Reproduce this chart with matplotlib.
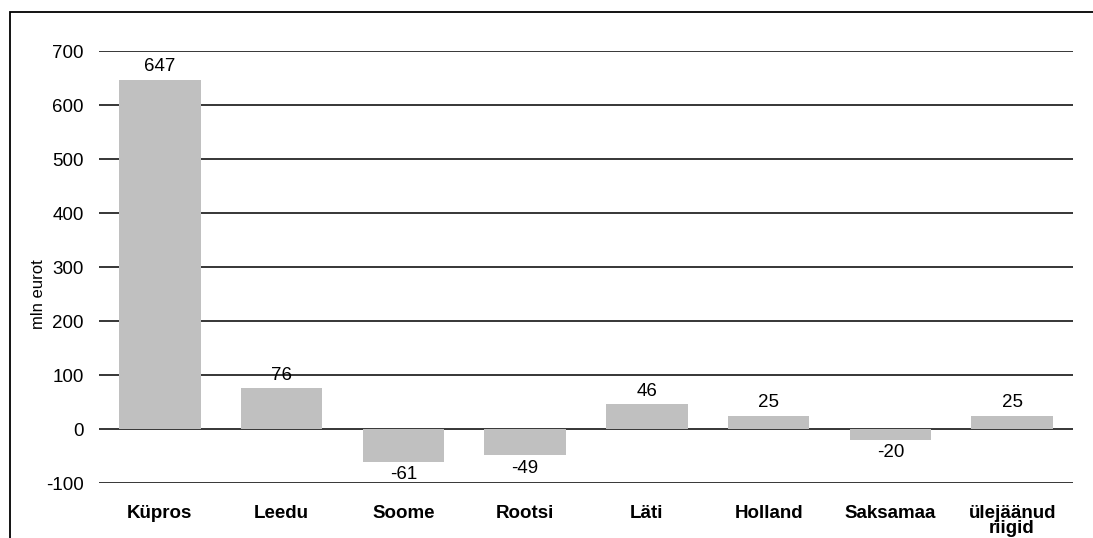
import matplotlib
matplotlib.use('Agg')
from matplotlib import pyplot as plt
from matplotlib.patches import Rectangle

# Data
countries = ['Küpros', 'Leedu', 'Soome', 'Rootsi', 'Läti', 'Holland', 'Saksamaa', 'ülejäänud\nriigid']
values = [647, 76, -61, -49, 46, 25, -20, 25]
yticks = [-100, 0, 100, 200, 300, 400, 500, 600, 700]

plt.rcParams['font.family'] = ['Liberation Sans', 'DejaVu Sans']

fig = plt.figure(figsize=(10.93, 5.38), dpi=100)
ax = fig.add_axes([99 / 1093, 1 - 483 / 538, (1073 - 99) / 1093, (483 - 51) / 538])

# Outer frame (cut off at right and bottom like the original)
fig.patches.append(Rectangle((10 / 1093, -0.1), 1.2, 1 - 12 / 538 + 0.1,
                             transform=fig.transFigure, fill=False,
                             edgecolor='black', linewidth=1.3))

x = list(range(len(countries)))
ax.bar(x, values, width=0.67, color='#c0c0c0', zorder=2)

for yt in yticks:
    ax.axhline(yt, color='black', linewidth=1.1, zorder=1)

# Value labels
for xi, v in zip(x, values):
    if v >= 0:
        ax.annotate(str(v), (xi, v), xytext=(0, 3), textcoords='offset points',
                    ha='center', va='bottom', fontsize=13.5)
    else:
        ax.annotate(str(v), (xi, v), xytext=(0, -3), textcoords='offset points',
                    ha='center', va='top', fontsize=13.5)

ax.set_xlim(-0.5, len(countries) - 0.5)
ax.set_ylim(-100, 700)
ax.set_yticks(yticks)
ax.set_yticklabels([str(t) for t in yticks], fontsize=13.5)
ax.set_xticks(x)
ax.set_xticklabels(countries, fontsize=13.5, fontweight='bold', linespacing=0.85)
ax.tick_params(axis='y', length=0, pad=11)
ax.tick_params(axis='x', length=0, pad=16)
ax.set_ylabel('mln eurot', fontsize=12)
ax.yaxis.set_label_coords((46 - 99) / 974, (483 - 294) / 432)

for s in ax.spines.values():
    s.set_visible(False)

fig.savefig('out.png', dpi=100)
